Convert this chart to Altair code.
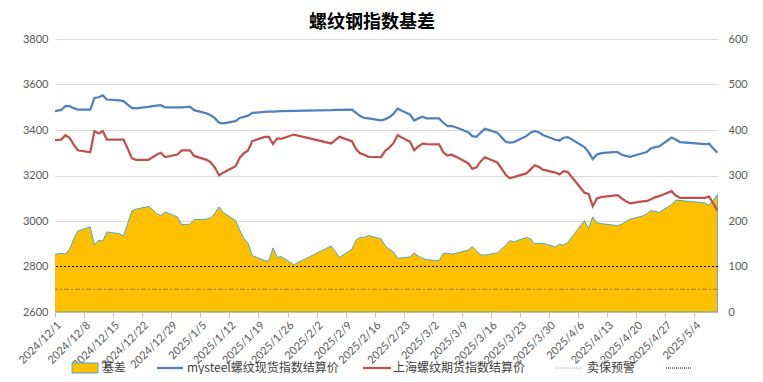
import altair as alt
import pandas as pd

title_text = "螺纹钢指数基差"
series_names = ["基差", "mysteel螺纹现货指数结算价", "上海螺纹期货指数结算价", "卖保预警", ""]

dates = [
    "2024-11-29", "2024-12-02", "2024-12-03", "2024-12-04", "2024-12-05", "2024-12-06",
    "2024-12-09", "2024-12-10", "2024-12-11", "2024-12-12", "2024-12-13",
    "2024-12-16", "2024-12-17", "2024-12-18", "2024-12-19", "2024-12-20",
    "2024-12-23", "2024-12-24", "2024-12-25", "2024-12-26", "2024-12-27",
    "2024-12-30", "2024-12-31", "2025-01-02", "2025-01-03",
    "2025-01-06", "2025-01-07", "2025-01-08", "2025-01-09", "2025-01-10",
    "2025-01-13", "2025-01-14", "2025-01-15", "2025-01-16", "2025-01-17",
    "2025-01-20", "2025-01-21", "2025-01-22", "2025-01-23", "2025-01-24",
    "2025-01-27", "2025-02-05", "2025-02-06", "2025-02-07",
    "2025-02-10", "2025-02-11", "2025-02-12", "2025-02-13", "2025-02-14",
    "2025-02-17", "2025-02-18", "2025-02-19", "2025-02-20", "2025-02-21",
    "2025-02-24", "2025-02-25", "2025-02-26", "2025-02-27", "2025-02-28",
    "2025-03-03", "2025-03-04", "2025-03-05", "2025-03-06", "2025-03-07",
    "2025-03-10", "2025-03-11", "2025-03-12", "2025-03-13", "2025-03-14",
    "2025-03-17", "2025-03-18", "2025-03-19", "2025-03-20", "2025-03-21",
    "2025-03-24", "2025-03-25", "2025-03-26", "2025-03-27", "2025-03-28",
    "2025-03-31", "2025-04-01", "2025-04-02", "2025-04-03",
    "2025-04-07", "2025-04-08", "2025-04-09", "2025-04-10", "2025-04-11",
    "2025-04-14", "2025-04-15", "2025-04-16", "2025-04-17", "2025-04-18",
    "2025-04-21", "2025-04-22", "2025-04-23", "2025-04-24", "2025-04-25",
    "2025-04-28", "2025-04-29", "2025-04-30",
    "2025-05-06", "2025-05-07", "2025-05-08", "2025-05-09",
]

spot = [
    3478, 3488, 3505, 3505, 3496, 3490,
    3490, 3541, 3544, 3552, 3534,
    3530, 3527, 3512, 3497, 3495,
    3502, 3505, 3507, 3509, 3500,
    3500, 3500, 3503, 3487,
    3473, 3465, 3452, 3432, 3429,
    3439, 3453, 3458, 3463, 3475,
    3480, 3481, 3481, 3482, 3483,
    3484, 3487, 3488, 3489,
    3490, 3475, 3461, 3453, 3451,
    3442, 3448, 3456, 3471, 3494,
    3468, 3442, 3451, 3458, 3451,
    3451, 3432, 3417, 3418, 3412,
    3390, 3373, 3370, 3388, 3405,
    3388, 3369, 3348, 3345, 3347,
    3373, 3388, 3395, 3390, 3378,
    3357, 3354, 3366, 3369,
    3325, 3303, 3272, 3292, 3298,
    3303, 3303, 3291, 3286, 3282,
    3298, 3303, 3319, 3325, 3328,
    3367, 3358, 3347,
    3338, 3340, 3320, 3300,
]

futures = [
    3352, 3358, 3377, 3366, 3336, 3311,
    3302, 3395, 3385, 3395, 3358,
    3358, 3358, 3318, 3276, 3269,
    3269, 3280, 3292, 3300, 3281,
    3292, 3310, 3310, 3286,
    3269, 3258, 3235, 3201, 3212,
    3241, 3278, 3298, 3310, 3351,
    3370, 3370, 3339, 3363, 3361,
    3380, 3341, 3355, 3370,
    3351, 3316, 3297, 3291, 3282,
    3281, 3308, 3322, 3342, 3377,
    3348, 3311, 3328, 3340, 3338,
    3337, 3302, 3288, 3292, 3283,
    3254, 3229, 3236, 3262, 3280,
    3257, 3232, 3204, 3188, 3193,
    3209, 3226, 3245, 3238, 3226,
    3213, 3205, 3219, 3215,
    3124, 3119, 3065, 3099, 3105,
    3112, 3114, 3099, 3087, 3078,
    3086, 3087, 3096, 3104, 3109,
    3131, 3112, 3102,
    3102, 3107, 3078, 3046,
]

basis = [
    124, 129, 127, 138, 160, 178,
    187, 147, 158, 156, 176,
    172, 167, 194, 222, 226,
    232, 225, 216, 212, 220,
    209, 192, 193, 203,
    204, 207, 217, 231, 219,
    201, 180, 162, 151, 124,
    113, 112, 141, 120, 122,
    104, 145, 133, 120,
    138, 158, 164, 164, 168,
    161, 146, 138, 132, 118,
    121, 130, 123, 118, 115,
    113, 129, 129, 127, 129,
    136, 144, 134, 126, 125,
    130, 138, 146, 157, 154,
    164, 161, 150, 151, 151,
    143, 149, 147, 153,
    201, 184, 209, 196, 194,
    191, 190, 193, 199, 204,
    211, 216, 223, 221, 219,
    236, 246, 245,
    240, 235, 245, 258,
]

warn_level = [100]
hedge_level = [50]

left_ticks = [2600, 2800, 3000, 3200, 3400, 3600, 3800]
right_ticks = [0, 100, 200, 300, 400, 500, 600]
week_ticks = [
    "2024-12-01", "2024-12-08", "2024-12-15", "2024-12-22", "2024-12-29",
    "2025-01-05", "2025-01-12", "2025-01-19", "2025-01-26", "2025-02-02",
    "2025-02-09", "2025-02-16", "2025-02-23", "2025-03-02", "2025-03-09",
    "2025-03-16", "2025-03-23", "2025-03-30", "2025-04-06", "2025-04-13",
    "2025-04-20", "2025-04-27", "2025-05-04",
]


def to_dt(s, hours=0):
    y, m, d = (int(p) for p in s.split("-"))
    return alt.DateTime(year=y, month=m, date=d, hours=hours)


df = pd.DataFrame({
    "date": [d + "T12:00:00" for d in dates],
    "spot": spot,
    "futures": futures,
    "basis": basis,
})

x_scale = alt.Scale(domain=[to_dt("2024-12-01"), to_dt("2025-05-09", 16)])
left_scale = alt.Scale(domain=[2600, 3800], nice=False, zero=False)
right_scale = alt.Scale(domain=[0, 600], nice=False)

GRAY = "#595959"
LABEL_FONT = "Lato"
CJK = "Noto Sans CJK SC"

x_axis = alt.Axis(
    values=[to_dt(t) for t in week_ticks], format="%Y/%-m/%-d", labelAngle=-45,
    labelAlign="right", labelBaseline="top", labelPadding=2, labelFontSize=11,
    labelFont=LABEL_FONT, labelColor=GRAY, grid=False, domain=True,
    domainColor="#bfbfbf", ticks=True, tickColor="#bfbfbf", tickSize=5,
    title=None, labelOverlap=False,
)
X = alt.X("date:T", scale=x_scale, axis=x_axis)

# left axis with gridlines, drawn as its own (invisible) layer underneath everything
left_axis_layer = alt.Chart(df).mark_line(opacity=0).encode(
    x=X,
    y=alt.Y("spot:Q", scale=left_scale, axis=alt.Axis(
        orient="left", values=left_ticks, format="d", grid=True, gridColor="#d9d9d9",
        domain=False, ticks=False, labelPadding=7, labelFontSize=11,
        labelFont=LABEL_FONT, labelColor=GRAY, title=None)),
)

area = alt.Chart(df).mark_area(
    fill="#FFC000", stroke="#4BACC6", strokeWidth=1, opacity=1, clip=True
).encode(
    x=X,
    y=alt.Y("basis:Q", scale=right_scale, axis=alt.Axis(
        orient="right", values=right_ticks, format="d", grid=False, domain=False,
        ticks=False, labelPadding=10, labelFontSize=11, labelFont=LABEL_FONT,
        labelColor=GRAY, title=None)),
)

rule100 = alt.Chart(pd.DataFrame({"lv": warn_level})).mark_rule(
    color="black", strokeWidth=1, strokeDash=[2, 2]
).encode(y=alt.Y("lv:Q", scale=right_scale, axis=None))

rule50 = alt.Chart(pd.DataFrame({"lv": hedge_level})).mark_rule(
    color="#a07a50", strokeWidth=1, strokeDash=[5, 2, 2, 2]
).encode(y=alt.Y("lv:Q", scale=right_scale, axis=None))

spot_line = alt.Chart(df).mark_line(color="#4F81BD", strokeWidth=2.25, clip=True).encode(
    x=X,
    y=alt.Y("spot:Q", scale=left_scale, axis=None),
)
fut_line = alt.Chart(df).mark_line(color="#C0504D", strokeWidth=2.25, clip=True).encode(
    x=X,
    y=alt.Y("futures:Q", scale=left_scale, axis=None),
)

one = pd.DataFrame({"a": [0]})

title_mark = alt.Chart(one).mark_text(
    text=title_text, font=CJK, fontSize=18, fontWeight="bold", color="black",
    align="center", baseline="middle"
).encode(x=alt.value(317), y=alt.value(-16))

LEG_Y = 329
leg = []
leg.append(alt.Chart(one).mark_rect(fill="#FFC000", stroke="#4BACC6", strokeWidth=1).encode(
    x=alt.value(17), x2=alt.value(43), y=alt.value(LEG_Y - 5), y2=alt.value(LEG_Y + 5)))
leg.append(alt.Chart(one).mark_rule(color="#4F81BD", strokeWidth=2.25).encode(
    x=alt.value(102), x2=alt.value(128), y=alt.value(LEG_Y)))
leg.append(alt.Chart(one).mark_rule(color="#C0504D", strokeWidth=2.25).encode(
    x=alt.value(308), x2=alt.value(336), y=alt.value(LEG_Y)))
leg.append(alt.Chart(one).mark_rule(color="#b3a2c7", strokeWidth=1, strokeDash=[1, 1]).encode(
    x=alt.value(501), x2=alt.value(527), y=alt.value(LEG_Y)))
leg.append(alt.Chart(one).mark_rule(color="black", strokeWidth=1, strokeDash=[1, 1]).encode(
    x=alt.value(611), x2=alt.value(637), y=alt.value(LEG_Y)))
for name, xpos in zip(series_names[:4], [47, 132, 338, 532]):
    leg.append(alt.Chart(one).mark_text(
        text=name, font=CJK, fontSize=12, color="#404040", align="left", baseline="middle"
    ).encode(x=alt.value(xpos), y=alt.value(LEG_Y)))

chart = alt.layer(
    left_axis_layer, area, rule100, rule50, spot_line, fut_line, title_mark, *leg
).resolve_scale(
    y="independent"
).properties(
    width=663, height=273, autosize="none",
    padding={"left": 47, "top": 31, "right": 37, "bottom": 62},
).configure_view(stroke="transparent")

chart.save("out.html", embed_options={"renderer": "svg", "actions": False})
